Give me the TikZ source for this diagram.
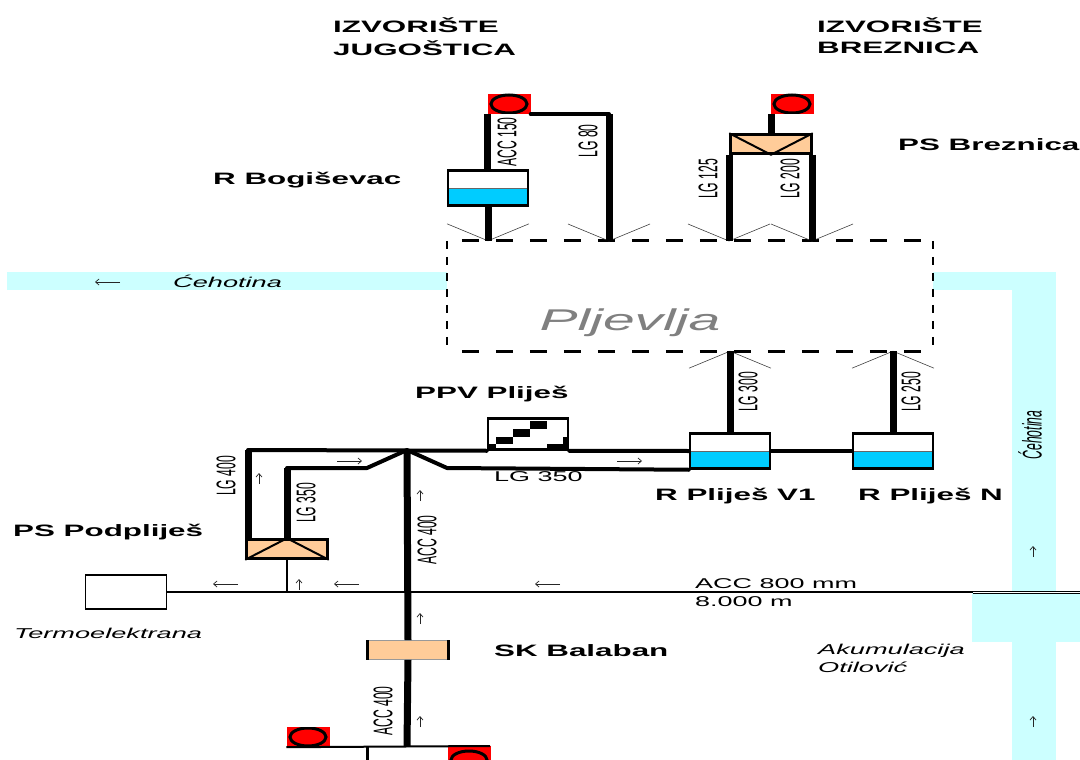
\documentclass[tikz,border=0pt]{standalone}
\usepackage{fontspec}
\usepackage{xcolor}
\setmainfont{Liberation Sans}
\newfontfamily\widefont[FakeStretch=1.9]{Liberation Sans}
\newfontfamily\slimfont[FakeStretch=0.45]{Liberation Sans}
\usetikzlibrary{arrows.meta}
\definecolor{rivercol}{HTML}{CCFFFF}
\definecolor{watercol}{HTML}{00CCFF}
\definecolor{pumpcol}{HTML}{FFCC99}

\begin{document}
\begin{tikzpicture}[
    x=1pt, y=-1pt, >={Straight Barb[length=3.5pt,width=6pt]},
    river/.style={fill=rivercol, draw=none},
    pipe/.style={line width=7pt, draw=black},
    pipeh/.style={line width=4pt, draw=black, line cap=round, line join=round},
    pipethin/.style={line width=2pt, draw=black},
    fan/.style={line width=0.6pt, draw=black!75},
    flow/.style={->, line width=0.7pt, draw=black!85},
    hdash/.style={line width=3pt, draw=black, dash pattern=on 17pt off 17pt, dash phase=19pt},
    vdash/.style={line width=2.5pt, draw=black, dash pattern=on 8pt off 8pt},
    tank/.style={draw=black, line width=2.5pt, minimum width=80pt, minimum height=35pt,
      inner sep=0pt, fill=white, path picture={
        \fill[watercol] (path picture bounding box.west) rectangle (path picture bounding box.south east);
        \draw[line width=1pt, black!60] (path picture bounding box.west) -- (path picture bounding box.east);}},
    pump/.style={draw=black, line width=2.5pt, fill=pumpcol, minimum width=81pt,
      minimum height=19pt, inner sep=0pt},
    source/.style={fill=red, minimum width=43pt, minimum height=20pt, inner sep=0pt,
      path picture={\draw[line width=3pt, black, fill=red]
        (path picture bounding box.center) ellipse (18pt and 9pt);}},
    box/.style={draw=black, line width=1.8pt, fill=white, minimum width=81pt,
      minimum height=34pt, inner sep=0pt},
    bold/.style={anchor=west, inner sep=0pt, font=\widefont\bfseries\fontsize{16.5}{18}\selectfont},
    plain/.style={anchor=west, inner sep=0pt, font=\widefont\fontsize{14.2}{16}\selectfont},
    slant/.style={anchor=west, inner sep=0pt, font=\widefont\itshape\fontsize{14.3}{16}\selectfont},
    dn/.style={rotate=90, inner sep=0pt, font=\slimfont\fontsize{27}{29}\selectfont}
]
\useasboundingbox (0,0) rectangle (1080,760);
% river and reservoir
\fill[river] (7,272) rectangle (1056,290);
\fill[river] (1012,272) rectangle (1056,760);
\fill[river] (972,592) rectangle (1080,642);
% town
\node[fill=white, minimum width=486pt, minimum height=110pt, inner sep=0pt] (plj) at (690,296) {};
\node[font=\widefont\itshape\fontsize{30}{32}\selectfont, text=black!50] (pljname) at (630,323) {Pljevlja};
\draw[hdash] (plj.north west) -- (plj.north east);
\draw[hdash] (plj.south west) -- (plj.south east);
\draw[vdash] (plj.north west) -- (plj.south west);
\draw[vdash] (plj.north east) -- (plj.south east);
% equipment
\node[source] (srcjug) at (509,104) {};
\node[source] (srcbre) at (792,104) {};
\node[source] (srcbal) at (308,737) {};
\node[source, minimum height=28pt] (srcbal2) at (469,760) {};
\node[tank] (rbog) at (488,188) {};
\node[tank] (rv1) at (730,451) {};
\node[tank] (rn) at (893,451) {};
\node[pump] (pbre) at (771,144) {};
\node[pump] (ppod) at (287,549) {};
\node[pump, draw=black!40, line width=0.6pt] (skbal) at (408,650) {};
\draw[line width=3pt] (skbal.north west) -- (skbal.south west);
\draw[line width=3pt] (skbal.north east) -- (skbal.south east);
\node[box] (termo) at (126,592) {};
\node[draw=black, line width=2.5pt, fill=white, minimum width=80pt, minimum height=31pt, inner sep=0pt] (ppv) at (528,434) {};
\foreach \xa/\ya/\xb/\yb in {530/421/547/429,513/429/530/437,496/437/513/444,
                             547/444/563/450,488/444/496/450,563/437/568/450}{
  \fill[black] (\xa,\ya) rectangle (\xb,\yb);
}
\draw[line width=2pt] (pbre.north west) -- (pbre.south) -- (pbre.north east);
\draw[line width=2pt] (ppod.south west) -- (ppod.north) -- (ppod.south east);
% junction points on the town border
\coordinate (inbog) at (rbog.south |- plj.north);
\coordinate (in80) at (609,241);
\coordinate (in125) at (729,241);
\coordinate (in200) at (812,241);
\coordinate (inv1) at (rv1.north |- plj.south);
\coordinate (inn) at (rn.north |- plj.south);
\foreach \n in {inbog,in80,in125,in200}{
  \draw[fan] (\n) ++(-41,-17) -- (\n) -- ++(41,-17);
}
\foreach \n in {inv1,inn}{
  \draw[fan] (\n) ++(-41,17) -- (\n) -- ++(41,17);
}
% north pipes
\draw[pipe] (srcjug.south west) -- (rbog.north -| srcjug.south west);
\draw[pipe] (rbog.south) -- (inbog);
\draw[pipeh] (srcjug.south east) -- (in80 |- srcjug.south);
\draw[pipe] (in80 |- srcjug.south) -- (in80);
\draw[pipe] (pbre.north) -- (pbre.north |- srcbre.south);
\draw[pipe] (in125 |- pbre.south) -- (in125);
\draw[pipe] (in200 |- pbre.south) -- (in200);
\draw[pipe] (inv1) -- (rv1.north);
\draw[pipe] (inn) -- (rn.north);
% network round the junction
\coordinate (jct) at (407,450);
\coordinate (lgw) at (248,450);
\coordinate (lgi) at (287,468);
\draw[pipeh] (lgw) -- (ppv.south west);
\draw[pipeh] (ppv.south east) -- (rv1.west);
\draw[pipeh] (rv1.east) -- (rn.west);
\draw[pipeh] (lgi) -- (367,468) -- (jct) -- (447,468) -- (rv1.south west);
\draw[pipe] (lgw) -- (lgw |- ppod.north);
\draw[pipe] (lgi) -- (ppod.north);
\draw[pipe] (jct) -- (skbal.north);
\draw[pipe] (skbal.south) -- (407,746);
\draw[pipethin] (ppod.south) -- (287,592);
% transmission main
\coordinate (rivl) at (973,592.5);
\coordinate (rivr) at (1080,592.5);
\draw[pipethin] (termo.east) -- (rivr |- termo.east);
\draw[line width=3pt] (rivl) -- (rivr);
\draw[line width=0.8pt, white] (rivl) -- (rivr);
% south branch
\draw[pipethin] (srcbal.south west) -- (490,746);
\draw[line width=3pt] (367,746) -- (367,760);
% flow marks
\foreach \i/\x/\y in {1/259/484,2/299/590,3/420/501,4/420/624,5/420/727,6/1033/557,7/1033/727}{
  \coordinate (up\i) at (\x,\y);
  \draw[flow] (up\i) -- ++(0,-11);
}
\foreach \i/\x/\y in {1/337/461,2/617/461}{
  \coordinate (rt\i) at (\x,\y);
  \draw[flow] (rt\i) -- ++(25,0);
}
\foreach \i/\x/\y in {1/238/584,2/359/584,3/560/584,4/120/282}{
  \coordinate (lf\i) at (\x,\y);
  \draw[flow] (lf\i) -- ++(-25,0);
}
% names
\node[bold] (izv1) at (333,25) {IZVORIŠTE};
\node[bold] (jug) at (333,48) {JUGOŠTICA};
\node[bold] (izv2) at (817,25) {IZVORIŠTE};
\node[bold] (bre) at (817,48) {BREZNICA};
\node[bold] (nbog) at (213,180) {R Bogiševac};
\node[bold] (nbre) at (898,145) {PS Breznica};
\node[bold] (nppv) at (415,394) {PPV Pliješ};
\node[bold] (nv1) at (655,496) {R Pliješ V1};
\node[bold] (nn) at (858,496) {R Pliješ N};
\node[bold] (npod) at (13,532) {PS Podpliješ};
\node[bold] (nbal) at (494,651) {SK Balaban};
\node[plain] (pipe1) at (494,477) {LG 350};
\node[plain] (main1) at (695,584) {ACC 800 mm};
\node[plain] (main2) at (695,602) {8.000 m};
\node[slant] (nter) at (14,633) {Termoelektrana};
\node[slant] (nriv) at (173,281) {Ćehotina};
\node[slant] (nak1) at (818,651) {Akumulacija};
\node[slant] (nak2) at (818,667) {Otilović};
% pipe labels
\foreach \x/\y/\lbl in {507/142/ACC 150,588/141/LG 80,708/179/LG 125,790/179/LG 200,
                        748/392/LG 300,911/392/LG 250,226/476/LG 400,306/503/LG 350,
                        427/540/ACC 400,383/711/ACC 400}{
  \node[dn] at (\x,\y) {\lbl};
}
\node[rotate=90, inner sep=0pt, font=\slimfont\itshape\fontsize{27}{29}\selectfont] (nriv2) at (1030,435) {Ćehotina};
\end{tikzpicture}
\end{document}
